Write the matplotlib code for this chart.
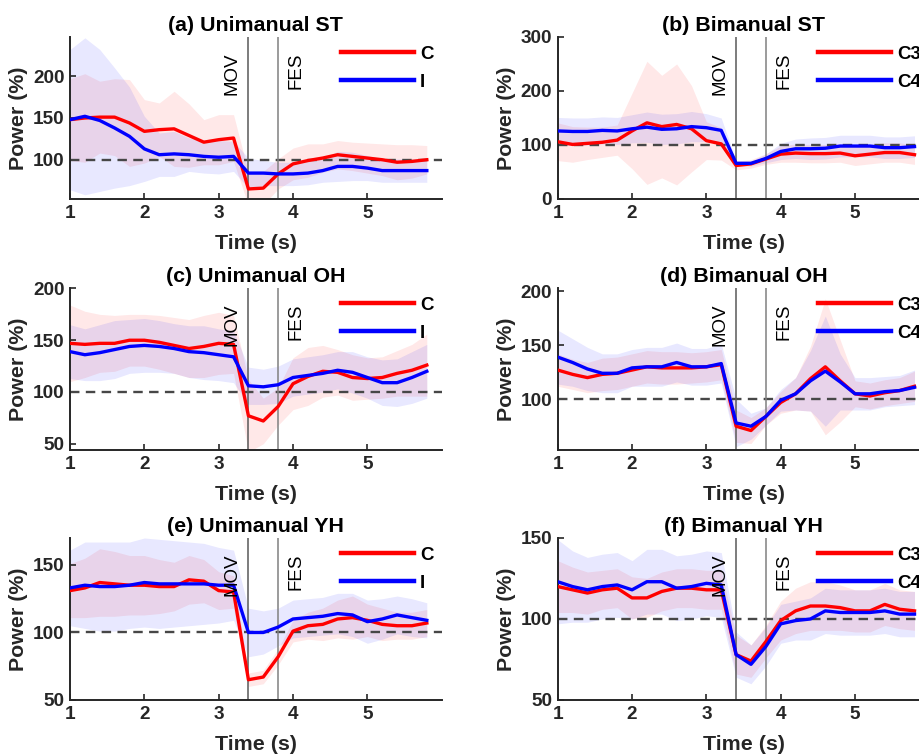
import matplotlib as mpl
import matplotlib.pyplot as plt
import matplotlib.transforms as mtransforms

mpl.rcParams['font.family'] = 'Liberation Sans'
mpl.rcParams['font.weight'] = 'bold'

# time axis (s), one sample every 0.2 s
t = [1.0, 1.2, 1.4, 1.6, 1.8, 2.0, 2.2, 2.4, 2.6, 2.8, 3.0, 3.2, 3.4,
     3.6, 3.8, 4.0, 4.2, 4.4, 4.6, 4.8, 5.0, 5.2, 5.4, 5.6, 5.8]

# event markers (s)
mov_time = 3.4
fes_time = 3.8

# (a) Unimanual ST
uni_st_c = [148, 150, 151, 151, 144, 134, 136, 137, 129, 121, 124, 126, 65,
            66, 83, 95, 99, 102, 106, 104, 102, 100, 97, 98, 100]
uni_st_c_sd = [49, 53, 43, 46, 52, 38, 32, 45, 38, 27, 30, 28, 20,
               20, 18, 19, 20, 17, 17, 17, 18, 19, 21, 20, 17]
uni_st_i = [148, 152, 147, 138, 128, 113, 106, 107, 106, 104, 103, 104, 84,
            84, 83, 83, 84, 87, 92, 92, 90, 87, 87, 87, 87]
uni_st_i_sd = [84, 94, 85, 72, 59, 39, 26, 27, 20, 20, 20, 18, 18,
               15, 14, 14, 14, 14, 18, 17, 15, 14, 14, 14, 14]

# (b) Bimanual ST
bi_st_c3 = [106, 101, 103, 105, 109, 126, 141, 134, 138, 130, 108, 102, 62,
            65, 74, 83, 85, 84, 84, 85, 80, 83, 86, 86, 82]
bi_st_c3_sd = [35, 33, 30, 28, 28, 70, 114, 95, 112, 80, 35, 30, 8,
               8, 10, 15, 17, 17, 17, 17, 18, 18, 18, 18, 18]
bi_st_c4 = [126, 125, 125, 127, 126, 130, 133, 129, 130, 134, 132, 127, 66,
            66, 75, 88, 93, 93, 94, 98, 98, 98, 95, 95, 97]
bi_st_c4_sd = [25, 25, 25, 25, 25, 26, 28, 28, 28, 28, 26, 23, 5,
               5, 8, 15, 18, 20, 20, 20, 20, 20, 20, 20, 20]

# (c) Unimanual OH
uni_oh_c = [147, 146, 147, 147, 150, 150, 148, 145, 142, 144, 147, 146, 77,
            72, 86, 108, 115, 120, 119, 114, 113, 114, 118, 121, 126]
uni_oh_c_sd = [37, 32, 28, 27, 25, 25, 26, 27, 28, 30, 30, 28, 35,
               22, 18, 25, 28, 25, 22, 22, 20, 20, 22, 25, 30]
uni_oh_i = [139, 136, 138, 141, 144, 145, 144, 142, 139, 138, 136, 134, 106,
            105, 107, 114, 116, 118, 121, 119, 114, 109, 109, 114, 120]
uni_oh_i_sd = [26, 25, 27, 28, 26, 26, 25, 24, 25, 26, 25, 25, 18,
               17, 18, 18, 18, 18, 18, 20, 20, 22, 23, 25, 26]

# (d) Bimanual OH
bi_oh_c3 = [127, 123, 120, 123, 124, 127, 130, 129, 129, 129, 130, 132, 75,
            71, 84, 97, 105, 119, 130, 117, 105, 103, 106, 108, 112]
bi_oh_c3_sd = [15, 14, 14, 15, 15, 15, 15, 15, 15, 14, 14, 14, 15,
               12, 8, 10, 15, 30, 63, 38, 12, 12, 12, 12, 14]
bi_oh_c4 = [139, 134, 128, 124, 124, 129, 130, 130, 134, 130, 130, 133, 78,
            75, 84, 99, 105, 117, 126, 116, 105, 105, 107, 108, 111]
bi_oh_c4_sd = [25, 22, 20, 18, 18, 17, 18, 18, 18, 17, 17, 18, 22,
               12, 8, 10, 15, 28, 51, 26, 15, 15, 14, 14, 16]

# (e) Unimanual YH
uni_yh_c = [131, 133, 137, 136, 135, 135, 134, 134, 139, 138, 131, 130, 65,
            67, 82, 101, 105, 106, 110, 111, 109, 106, 105, 105, 107]
uni_yh_c_sd = [20, 22, 25, 24, 22, 22, 20, 18, 18, 16, 14, 12, 5,
               5, 6, 8, 10, 12, 14, 16, 12, 12, 10, 10, 10]
uni_yh_i = [133, 135, 134, 134, 135, 137, 136, 136, 136, 136, 135, 135, 100,
            100, 104, 110, 111, 112, 114, 113, 108, 110, 113, 111, 109]
uni_yh_i_sd = [28, 32, 33, 33, 32, 33, 33, 32, 31, 30, 28, 26, 18,
               16, 14, 14, 14, 14, 15, 16, 16, 15, 14, 14, 13]

# (f) Bimanual YH
bi_yh_c3 = [120, 118, 116, 118, 119, 113, 113, 117, 119, 119, 118, 118, 78,
            74, 86, 99, 105, 108, 108, 107, 105, 105, 109, 106, 105]
bi_yh_c3_sd = [16, 14, 13, 12, 12, 13, 12, 12, 12, 12, 12, 12, 12,
               10, 10, 12, 14, 15, 15, 14, 13, 13, 13, 12, 12]
bi_yh_c4 = [123, 120, 118, 120, 121, 118, 123, 123, 119, 120, 122, 121, 78,
            72, 83, 97, 99, 100, 105, 104, 104, 104, 105, 103, 103]
bi_yh_c4_sd = [26, 22, 20, 20, 20, 18, 20, 20, 20, 20, 20, 20, 14,
               12, 12, 12, 12, 13, 14, 14, 14, 14, 14, 14, 14]

uni_names = ['C', 'I']
bi_names = ['C3', 'C4']

# title, red mean/sd, blue mean/sd, legend names, ylim, yticks
panels = [
    ('(a) Unimanual ST', uni_st_c, uni_st_c_sd, uni_st_i, uni_st_i_sd, uni_names, (53, 247), [100, 150, 200]),
    ('(b) Bimanual ST', bi_st_c3, bi_st_c3_sd, bi_st_c4, bi_st_c4_sd, bi_names, (0, 300), [0, 100, 200, 300]),
    ('(c) Unimanual OH', uni_oh_c, uni_oh_c_sd, uni_oh_i, uni_oh_i_sd, uni_names, (44, 200.5), [50, 100, 150, 200]),
    ('(d) Bimanual OH', bi_oh_c3, bi_oh_c3_sd, bi_oh_c4, bi_oh_c4_sd, bi_names, (53, 203), [100, 150, 200]),
    ('(e) Unimanual YH', uni_yh_c, uni_yh_c_sd, uni_yh_i, uni_yh_i_sd, uni_names, (50, 170), [50, 100, 150]),
    ('(f) Bimanual YH', bi_yh_c3, bi_yh_c3_sd, bi_yh_c4, bi_yh_c4_sd, bi_names, (50, 150), [50, 100, 150]),
]

# axes boxes in figure fractions (right column runs off the figure edge)
col_left = [0.0761, 0.6062]
row_bottom = [0.7368, 0.4048, 0.0741]
ax_w = 0.404
ax_h = 0.2143

dark = '#262626'

fig = plt.figure(figsize=(9.2, 7.56), dpi=100)

for i, (title, c_mean, c_sd, i_mean, i_sd, names, ylim, yticks) in enumerate(panels):
    row, col = divmod(i, 2)
    ax = fig.add_axes([col_left[col], row_bottom[row], ax_w, ax_h])

    # shaded +/- sd bands
    c_lo = [m - s for m, s in zip(c_mean, c_sd)]
    c_hi = [m + s for m, s in zip(c_mean, c_sd)]
    i_lo = [m - s for m, s in zip(i_mean, i_sd)]
    i_hi = [m + s for m, s in zip(i_mean, i_sd)]
    ax.fill_between(t, c_lo, c_hi, color='red', alpha=0.09, linewidth=0)
    ax.fill_between(t, i_lo, i_hi, color='blue', alpha=0.09, linewidth=0)

    # baseline and event lines
    ax.axhline(100, color='0.28', lw=1.7, dashes=(4, 2.7), zorder=2)
    ax.axvline(mov_time, color='0.35', lw=1.1, zorder=2)
    ax.axvline(fes_time, color='0.5', lw=1.1, zorder=2)

    [line_c] = ax.plot(t, c_mean, color='red', lw=2.4, zorder=3)
    [line_i] = ax.plot(t, i_mean, color='blue', lw=2.4, zorder=3)

    trans = mtransforms.blended_transform_factory(ax.transData, ax.transAxes)
    ax.text(3.18, 0.905, 'MOV', transform=trans, rotation=90, ha='center', va='top',
            fontsize=13.5, fontweight='normal', color='black')
    ax.text(4.04, 0.905, 'FES', transform=trans, rotation=90, ha='center', va='top',
            fontsize=13.5, fontweight='normal', color='black')

    leg = ax.legend([line_c, line_i], names, loc='upper right', frameon=False,
                    fontsize=13.5, handlelength=3.9, handletextpad=0.3,
                    labelspacing=0.6, borderaxespad=0.0, borderpad=0.45)
    for h in leg.legend_handles:
        h.set_linewidth(3.2)

    ax.set_xlim(1, 6)
    ax.set_ylim(ylim)
    ax.set_xticks([1, 2, 3, 4, 5])
    ax.set_yticks(yticks)

    ax.spines['top'].set_visible(False)
    ax.spines['right'].set_visible(False)
    for s in ['left', 'bottom']:
        ax.spines[s].set_linewidth(1.4)
        ax.spines[s].set_color(dark)
    ax.tick_params(direction='in', length=4, width=1.2, color=dark,
                   labelsize=13.7, labelcolor=dark, pad=4)

    ax.set_title(title, fontsize=15.4, fontweight='bold', color='black', pad=4)
    ax.set_xlabel('Time (s)', fontsize=15.4, fontweight='bold', color=dark)
    ax.set_ylabel('Power (%)', fontsize=15.4, fontweight='bold', color=dark)
    ax.xaxis.set_label_coords(0.5, -0.215)
    ax.yaxis.set_label_coords(-0.113, 0.5)

fig.savefig('out.png', dpi=100)
